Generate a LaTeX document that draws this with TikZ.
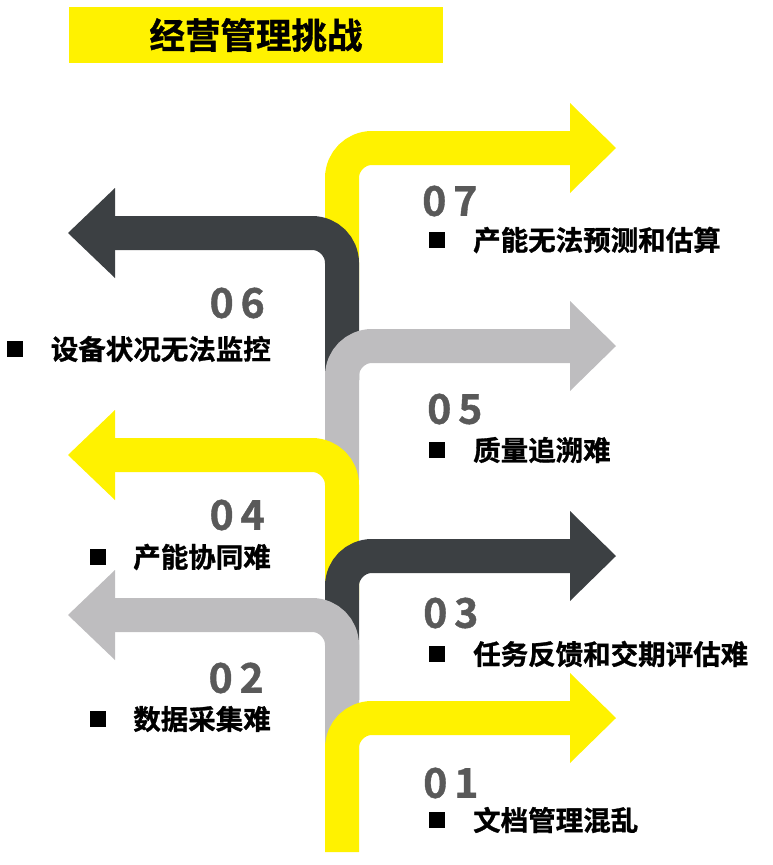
\documentclass[tikz,border=0pt]{standalone}
\usepackage{fontspec}
\usepackage{xcolor}
\usepackage{tikz}
\usetikzlibrary{positioning}
\newfontfamily\cjk{Noto Sans CJK SC Bold}[FakeBold=1]
\definecolor{chYellow}{HTML}{FFF200}
\definecolor{chDark}{HTML}{3C4043}
\definecolor{chGrey}{HTML}{BEBDBF}
\definecolor{chNum}{HTML}{595959}

\begin{document}
\begin{tikzpicture}[ % GLOBAL CFG
    x=1pt, y=-1pt,
    font=\cjk,
    % Styles
    band/.style={% For the bent shafts
        line width=34pt,
        rounded corners=30pt,
        },
    titlebox/.style={% For the heading bar
        rectangle,
        fill=chYellow,
        minimum width=374pt,
        minimum height=56pt,
        font=\cjk\fontsize{35.5pt}{40pt}\selectfont,
        },
    num/.style={% For the numbers
        text=chNum,
        inner sep=0pt,
        font=\cjk\fontsize{41pt}{44pt}\selectfont,
        },
    item/.style={% For the item texts
        inner sep=0pt,
        font=\cjk\fontsize{27.5pt}{30pt}\selectfont,
        },
    sqmark/.style={% For the black squares
        rectangle,
        fill=black,
        minimum size=16pt,
        inner sep=0pt,
        },
    ]

    \useasboundingbox (0,0) rectangle (772,865);

    \node [titlebox] (title) at (256,35) {经营管理挑战};

    % 07
    \draw [band, chYellow] (342,300) -- (342,148) -- (570,148);
    \fill [chYellow] (570,103) -- (616,148) -- (570,193) -- cycle;
    % 06
    \draw [band, chDark] (342,380) -- (342,233) -- (115,233);
    \fill [chDark] (115,188) -- (68,233) -- (115,278) -- cycle;
    % 05
    \draw [band, chGrey] (342,480) -- (342,346) -- (570,346);
    \fill [chGrey] (570,301) -- (616,346) -- (570,391) -- cycle;
    % 04
    \draw [band, chYellow] (342,600) -- (342,455) -- (115,455);
    \fill [chYellow] (115,410) -- (68,455) -- (115,500) -- cycle;
    % 03
    \draw [band, chDark] (342,700) -- (342,556) -- (570,556);
    \fill [chDark] (570,511) -- (616,556) -- (570,601) -- cycle;
    % 02
    \draw [band, chGrey] (342,760) -- (342,615) -- (115,615);
    \fill [chGrey] (115,570) -- (68,615) -- (115,660) -- cycle;
    % 01
    \draw [band, chYellow] (342,852) -- (342,718) -- (570,718);
    \fill [chYellow] (570,673) -- (616,718) -- (570,763) -- cycle;

    % Right side texts
    \node [num, anchor=west] (n07) at (422,201) {0\,7};
    \node [item, anchor=west] (t07) at (473,240) {产能无法预测和估算};
    \node [sqmark, left=28pt of t07] (b07) {};

    \node [num, anchor=west] (n05) at (427,409) {0\,5};
    \node [item, anchor=west] (t05) at (473,450) {质量追溯难};
    \node [sqmark, left=28pt of t05] (b05) {};

    \node [num, anchor=west] (n03) at (423,613) {0\,3};
    \node [item, anchor=west] (t03) at (473,654) {任务反馈和交期评估难};
    \node [sqmark, left=28pt of t03] (b03) {};

    \node [num, anchor=west] (n01) at (423,783) {0\,1};
    \node [item, anchor=west] (t01) at (473,820) {文档管理混乱};
    \node [sqmark, left=28pt of t01] (b01) {};

    % Left side texts
    \node [num, anchor=east] (n06) at (265,303) {0\,6};
    \node [item, anchor=east] (t06) at (271,349) {设备状况无法监控};
    \node [sqmark, left=27pt of t06] (b06) {};

    \node [num, anchor=east] (n04) at (265,515) {0\,4};
    \node [item, anchor=east] (t04) at (271,557) {产能协同难};
    \node [sqmark, left=27pt of t04] (b04) {};

    \node [num, anchor=east] (n02) at (264,678) {0\,2};
    \node [item, anchor=east] (t02) at (271,719) {数据采集难};
    \node [sqmark, left=27pt of t02] (b02) {};

\end{tikzpicture}
\end{document}
